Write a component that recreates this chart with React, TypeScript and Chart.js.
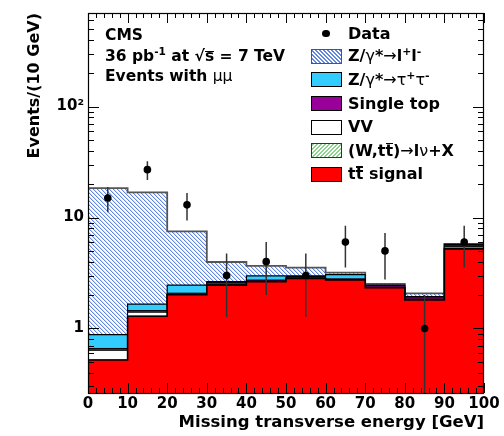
import React, { useEffect, useRef } from "react";
import { Chart, registerables } from "chart.js";

Chart.register(...registerables);

// ---------- data ----------
const BIN_LOW_EDGES = [0, 10, 20, 30, 40, 50, 60, 70, 80, 90];
const BIN_WIDTH = 10;
const X_MIN = 0;
const X_MAX = 100;
const X_TICK_STEP = 10;

// stacked MC components, bottom to top
const TTBAR_SIGNAL = [0.52, 1.29, 2.01, 2.46, 2.64, 2.82, 2.73, 2.33, 1.81, 5.22];
const W_TT_LNU = [0.0, 0.0, 0.0, 0.0, 0.0, 0.01, 0.0, 0.0, 0.0, 0.1];
const VV = [0.115, 0.11, 0.05, 0.04, 0.03, 0.04, 0.03, 0.03, 0.03, 0.15];
const SINGLE_TOP = [0.025, 0.05, 0.02, 0.1, 0.06, 0.07, 0.04, 0.08, 0.08, 0.15];
const Z_TAUTAU = [0.22, 0.21, 0.38, 0.04, 0.25, 0.04, 0.26, 0.02, 0.02, 0.1];
const Z_LL = [17.5, 15.2, 5.04, 1.33, 0.68, 0.56, 0.13, 0.06, 0.13, 0.06];

const DATA_COUNTS = [15, 27, 13, 3, 4, 3, 6, 5, 1, 6];

const Y_MIN = 0.262;
const Y_MAX = 697;
const Y_TICK_VALUES = [1, 10, 100];
const Y_TICK_LABELS = ["1", "10", "10\u00B2"];

const FONT = '"DejaVu Sans", "Liberation Sans", Arial, sans-serif';

function makeHatch(ctx: CanvasRenderingContext2D, main: string, light: string, forward: boolean) {
  const size = 4;
  const c = document.createElement("canvas");
  c.width = size;
  c.height = size;
  const g = c.getContext("2d")!;
  g.fillStyle = "#ffffff";
  g.fillRect(0, 0, size, size);
  for (let i = 0; i < size; i++) {
    const x = forward ? size - 1 - i : i;
    g.fillStyle = main;
    g.fillRect(x, i, 1, 1);
    g.fillStyle = light;
    g.fillRect((x + 1) % size, i, 1, 1);
  }
  return ctx.createPattern(c, "repeat")!;
}

const frameTicks = {
  id: "frameTicks",
  afterDatasetsDraw(chart: any) {
    const { ctx, chartArea: a, scales } = chart;
    const x = scales.x;
    const y = scales.y;
    ctx.save();
    ctx.strokeStyle = "#000";
    ctx.lineWidth = 1;
    ctx.beginPath();
    // x ticks (major every 10, minor every 2)
    for (let v = X_MIN; v <= X_MAX + 1e-9; v += 2) {
      const px = Math.round(x.getPixelForValue(v)) + 0.5;
      const len = Math.abs(v % 10) < 1e-9 ? 10 : 5;
      ctx.moveTo(px, a.bottom);
      ctx.lineTo(px, a.bottom - len);
      ctx.moveTo(px, a.top);
      ctx.lineTo(px, a.top + len);
    }
    // y ticks (log)
    for (let d = 0.1; d <= 1000; d *= 10) {
      for (let k = 1; k <= 9; k++) {
        const v = k * d;
        if (v < Y_MIN || v > Y_MAX) continue;
        const py = Math.round(y.getPixelForValue(v)) + 0.5;
        const len = k === 1 ? 11 : 6;
        ctx.moveTo(a.left, py);
        ctx.lineTo(a.left + len, py);
        ctx.moveTo(a.right, py);
        ctx.lineTo(a.right - len, py);
      }
    }
    ctx.stroke();
    ctx.lineWidth = 1.2;
    ctx.strokeRect(a.left + 0.5, a.top + 0.5, a.right - a.left - 1, a.bottom - a.top);
    ctx.restore();
  },
};

function stepPoints(vals: number[]) {
  const pts = BIN_LOW_EDGES.map((x, i) => ({ x, y: vals[i] }));
  pts.push({ x: BIN_LOW_EDGES[BIN_LOW_EDGES.length - 1] + BIN_WIDTH, y: vals[vals.length - 1] });
  return pts;
}

function ChartCanvas() {
  const ref = useRef<HTMLCanvasElement | null>(null);
  useEffect(() => {
    const canvas = ref.current!;
    const ctx = canvas.getContext("2d")!;
    const blueHatch = makeHatch(ctx, "#6287e2", "#d2ddf8", false);
    const greenHatch = makeHatch(ctx, "#8fd18f", "#d6efd6", true);

    const components = [TTBAR_SIGNAL, W_TT_LNU, VV, SINGLE_TOP, Z_TAUTAU, Z_LL];
    const styles = [
      { bg: "#ff0000", border: "#000000", bw: 1.6 },
      { bg: greenHatch, border: "#222222", bw: 1 },
      { bg: "#ffffff", border: "#000000", bw: 1 },
      { bg: "#990099", border: "#000000", bw: 1 },
      { bg: "#33ccff", border: "#000000", bw: 1.2 },
      { bg: blueHatch, border: "#555555", bw: 1.8 },
    ];
    let running = BIN_LOW_EDGES.map(() => 0);
    const histDatasets = components.map((comp, i) => {
      running = running.map((r, j) => r + comp[j]);
      return {
        type: "line",
        data: stepPoints(running.slice()),
        stepped: true,
        fill: i === 0 ? "start" : "-1",
        backgroundColor: styles[i].bg,
        borderColor: styles[i].border,
        borderWidth: styles[i].bw,
        pointRadius: 0,
        order: 2,
      };
    });

    const centers = BIN_LOW_EDGES.map((e) => e + BIN_WIDTH / 2);
    const errPts: any[] = [];
    DATA_COUNTS.forEach((n, i) => {
      const e = Math.sqrt(n);
      errPts.push({ x: centers[i], y: Math.max(n - e, Y_MIN) });
      errPts.push({ x: centers[i], y: n + e });
      errPts.push({ x: centers[i], y: null });
    });

    const chart = new Chart(canvas, {
      type: "line",
      data: {
        datasets: [
          ...histDatasets,
          {
            type: "line",
            data: errPts,
            borderColor: "#333333",
            borderWidth: 1.5,
            pointRadius: 0,
            fill: false,
            spanGaps: false,
            order: 1,
          },
          {
            type: "line",
            data: DATA_COUNTS.map((n, i) => ({ x: centers[i], y: n })),
            showLine: false,
            pointRadius: 3.8,
            pointBackgroundColor: "#000000",
            pointBorderColor: "#000000",
            pointBorderWidth: 0,
            fill: false,
            order: 0,
          },
        ] as any,
      },
      options: {
        animation: false,
        responsive: false,
        events: [],
        layout: { padding: { top: 8, right: 20, left: 0, bottom: 0 } },
        plugins: {
          legend: { display: false },
          tooltip: { enabled: false },
        },
        scales: {
          x: {
            type: "linear",
            min: X_MIN,
            max: X_MAX,
            ticks: {
              stepSize: X_TICK_STEP,
              autoSkip: false,
              maxRotation: 0,
              color: "#000",
              padding: 2,
              font: { family: FONT, size: 15, weight: "bold" },
            },
            grid: { display: false, drawTicks: false },
            border: { display: false },
            title: {
              display: true,
              text: "Missing transverse energy [GeV]",
              align: "end",
              color: "#000",
              font: { family: FONT, size: 16.5, weight: "bold" },
              padding: { top: 0, bottom: 3 },
            },
            afterFit: (s: any) => {
              s.height = 43;
            },
          },
          y: {
            type: "logarithmic",
            min: Y_MIN,
            max: Y_MAX,
            afterBuildTicks: (s: any) => {
              s.ticks = Y_TICK_VALUES.map((v) => ({ value: v }));
            },
            ticks: {
              autoSkip: false,
              color: "#000",
              padding: 4,
              font: { family: FONT, size: 15, weight: "bold" },
              callback: (_v: any, i: number) => Y_TICK_LABELS[i],
            },
            grid: { display: false, drawTicks: false },
            border: { display: false },
            title: {
              display: true,
              text: "Events/(10 GeV)",
              align: "end",
              color: "#000",
              font: { family: FONT, size: 16, weight: "bold" },
              padding: { top: 25, bottom: 0 },
            },
            afterFit: (s: any) => {
              s.width = 88;
            },
          },
        },
      } as any,
      plugins: [frameTicks],
    });
    return () => chart.destroy();
  }, []);
  return <canvas ref={ref} width={504} height={436} style={{ position: "absolute", left: 0, top: 0 }} />;
}

const sup: React.CSSProperties = { fontSize: "0.68em", verticalAlign: "0.55em", lineHeight: 0 };
const thin: React.CSSProperties = { fontWeight: "normal" };

// letter with a short bar just above it (anti-particle / sqrt overline)
function Barred({ ch, top }: { ch: string; top: number }) {
  return (
    <span style={{ position: "relative", display: "inline-block" }}>
      {ch}
      <span
        style={{
          position: "absolute",
          left: 0.5,
          right: 0.5,
          top,
          height: 1.5,
          background: "#000",
        }}
      />
    </span>
  );
}

const SWATCH_LEFT = 311;
const SWATCH_W = 31;
const SWATCH_H = 15;
const TEXT_LEFT = 348;

const legendRows: { cy: number; swatch: React.CSSProperties | null; label: React.ReactNode }[] = [
  { cy: 33.5, swatch: null, label: <>Data</> },
  {
    cy: 56,
    swatch: {
      background: "repeating-linear-gradient(45deg, #6287e2 0 1.1px, #ffffff 1.1px 2.8px)",
      border: "1.2px solid #555",
    },
    label: (
      <>
        Z/<span style={thin}>γ</span>*<span style={thin}>→</span>l<sup style={sup}>+</sup>l<sup style={sup}>-</sup>
      </>
    ),
  },
  {
    cy: 79.5,
    swatch: { background: "#33ccff", border: "1.2px solid #000" },
    label: (
      <>
        Z/<span style={thin}>γ</span>*<span style={thin}>→τ</span>
        <sup style={sup}>+</sup>
        <span style={thin}>τ</span>
        <sup style={sup}>-</sup>
      </>
    ),
  },
  { cy: 103.5, swatch: { background: "#990099", border: "1.2px solid #000" }, label: <>Single top</> },
  { cy: 127.3, swatch: { background: "#ffffff", border: "1.2px solid #000" }, label: <>VV</> },
  {
    cy: 150.5,
    swatch: {
      background: "repeating-linear-gradient(-45deg, #8fd18f 0 1.1px, #ffffff 1.1px 2.8px)",
      border: "1.2px solid #333",
    },
    label: (
      <>
        (W,t<Barred ch="t" top={2} />)<span style={thin}>→</span>l<span style={thin}>ν</span>+X
      </>
    ),
  },
  {
    cy: 174,
    swatch: { background: "#ff0000", border: "1.2px solid #000" },
    label: (
      <>
        t<Barred ch="t" top={2} /> signal
      </>
    ),
  },
];

export default function App() {
  const textBase: React.CSSProperties = {
    position: "absolute",
    fontFamily: FONT,
    fontWeight: "bold",
    color: "#000",
    whiteSpace: "nowrap",
  };
  return (
    <div
      style={{
        position: "fixed",
        left: 0,
        top: 0,
        width: 504,
        height: 436,
        background: "#fff",
        overflow: "hidden",
      }}
    >
      <ChartCanvas />
      {/* header text */}
      <div style={{ ...textBase, left: 105, top: 25.6, fontSize: 15.5, lineHeight: "18px" }}>CMS</div>
      <div style={{ ...textBase, left: 105, top: 46.6, fontSize: 15.5, lineHeight: "18px" }}>
        36 pb<sup style={sup}>-1</sup> at √<Barred ch="s" top={4} /> = 7 TeV
      </div>
      <div style={{ ...textBase, left: 105, top: 67, fontSize: 15.5, lineHeight: "18px" }}>
        Events with <span style={thin}>μμ</span>
      </div>
      {/* legend */}
      {legendRows.map((r, i) => (
        <React.Fragment key={i}>
          {r.swatch ? (
            <div
              style={{
                position: "absolute",
                left: SWATCH_LEFT,
                top: r.cy - SWATCH_H / 2,
                width: SWATCH_W,
                height: SWATCH_H,
                boxSizing: "border-box",
                ...r.swatch,
              }}
            />
          ) : (
            <div
              style={{
                position: "absolute",
                left: 326 - 3.8,
                top: r.cy - 3.8,
                width: 7.6,
                height: 7.6,
                borderRadius: "50%",
                background: "#000",
              }}
            />
          )}
          <div
            style={{
              ...textBase,
              left: TEXT_LEFT,
              top: r.cy - 10,
              height: 20,
              lineHeight: "20px",
              fontSize: 16,
            }}
          >
            {r.label}
          </div>
        </React.Fragment>
      ))}
    </div>
  );
}
